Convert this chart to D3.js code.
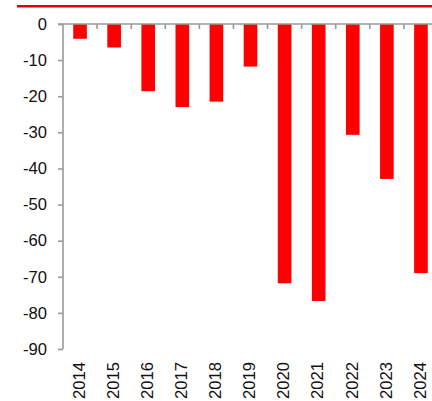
<!DOCTYPE html>
<html>
<head>
<meta charset="utf-8">
<script src="https://cdn.jsdelivr.net/npm/d3@7"></script>
<style>
  html, body { margin: 0; padding: 0; background: #fff; }
  svg { display: block; }
  text { font-family: "Liberation Sans", Arial, sans-serif; fill: #111; }
</style>
</head>
<body>
<svg id="chart" width="432" height="401"></svg>
<script>
// Annual values (negative balance), 2014–2024
const years = ["2014","2015","2016","2017","2018","2019","2020","2021","2022","2023","2024"];
const values = [-4.1, -6.5, -18.6, -23.0, -21.5, -11.8, -71.8, -76.7, -30.7, -42.9, -69.0];
const yTicks = [0, -10, -20, -30, -40, -50, -60, -70, -80, -90];

const svg = d3.select("#chart");
const axisColor = "#9a9a9a";
const fontSize = 16.6;

// Top rule
svg.append("line")
  .attr("x1", 17).attr("x2", 432)
  .attr("y1", 6.3).attr("y2", 6.3)
  .attr("stroke", "#e3000f").attr("stroke-width", 2.4);

const x = d3.scaleBand().domain(years).range([63, 438]).padding(0);
const y = d3.scaleLinear().domain([-90, 0]).range([349, 24]);
const barW = x.bandwidth() * 0.4;

// Bars hang down from zero
svg.append("g").selectAll("rect")
  .data(years.map((yr, i) => ({ yr, v: values[i] })))
  .join("rect")
  .attr("x", d => x(d.yr) + (x.bandwidth() - barW) / 2)
  .attr("y", y(0))
  .attr("width", barW)
  .attr("height", d => y(d.v) - y(0))
  .attr("fill", "#ff0000");

// Y axis (plain hyphen for negatives)
const yAxis = svg.append("g").attr("transform", "translate(63,0)")
  .call(d3.axisLeft(y).tickValues(yTicks).tickSize(5).tickPadding(11).tickFormat(d => String(d)));
yAxis.select(".domain").attr("stroke", axisColor).attr("stroke-width", 1.6).attr("d", "M0,24V349");
yAxis.selectAll(".tick line").attr("stroke", axisColor).attr("stroke-width", 1.6);
yAxis.selectAll(".tick text").attr("font-size", fontSize).attr("fill", "#111")
  .attr("font-family", "'Liberation Sans', Arial, sans-serif");

// X axis at zero, ticks at category boundaries
const xg = svg.append("g");
xg.append("line")
  .attr("x1", 58).attr("x2", 438)
  .attr("y1", y(0)).attr("y2", y(0))
  .attr("stroke", axisColor).attr("stroke-width", 1.6);
xg.selectAll(".bt")
  .data(years.slice(1))
  .join("line")
  .attr("x1", d => x(d)).attr("x2", d => x(d))
  .attr("y1", y(0)).attr("y2", y(0) + 5)
  .attr("stroke", axisColor).attr("stroke-width", 1.6);

// Category labels, rotated, below the plot
svg.append("g").selectAll("text")
  .data(years)
  .join("text")
  .attr("transform", d => `translate(${x(d) + x.bandwidth() / 2 - 1},362) rotate(-90)`)
  .attr("text-anchor", "end")
  .attr("dy", "0.35em")
  .attr("font-size", fontSize)
  .text(d => d);
</script>
</body>
</html>
